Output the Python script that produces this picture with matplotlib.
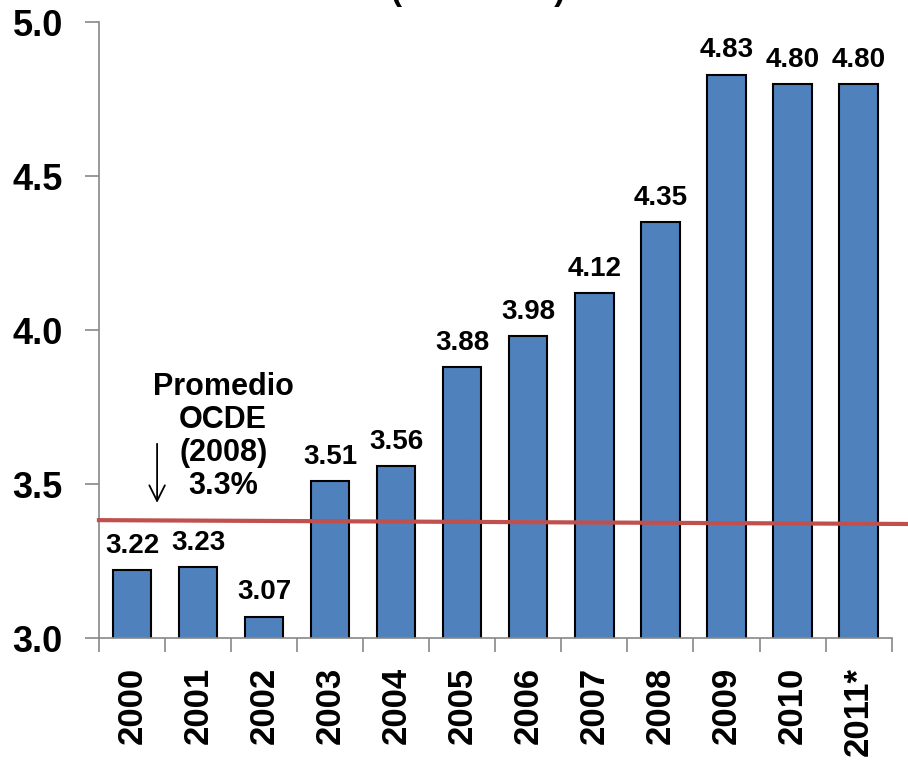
import matplotlib
matplotlib.use("Agg")
import matplotlib.pyplot as plt

years = ["2000", "2001", "2002", "2003", "2004", "2005", "2006", "2007", "2008", "2009", "2010", "2011*"]
values = [3.22, 3.23, 3.07, 3.51, 3.56, 3.88, 3.98, 4.12, 4.35, 4.83, 4.80, 4.80]
value_labels = ["3.22", "3.23", "3.07", "3.51", "3.56", "3.88", "3.98", "4.12", "4.35", "4.83", "4.80", "4.80"]
oecd_line = [3.383, 3.370]
yticks = [3.0, 3.5, 4.0, 4.5, 5.0]

plt.rcParams['font.family'] = ['Liberation Sans', 'DejaVu Sans']
plt.rcParams['font.weight'] = 'bold'

fig = plt.figure(figsize=(9.08, 7.66), dpi=100)
ax = fig.add_axes([0.109, 0.167, 0.873, 0.804])

x = list(range(len(years)))
ax.bar(x, values, width=0.58, color="#4F81BD", edgecolor="black", linewidth=1.5, zorder=2)

for xi, v, lab in zip(x, values, value_labels):
    ax.annotate(lab, (xi, v), xytext=(0, 8), textcoords="offset points",
                ha="center", va="bottom", fontsize=20, fontweight="bold")

# OECD average line extending beyond axes
ax.plot([-0.5, 12.25], oecd_line, color="#C0504D", linewidth=3, clip_on=False, zorder=3)

ax.text(1.38, 3.655, "Promedio\nOCDE\n(2008)\n3.3%", ha="center", va="center",
        fontsize=22, fontweight="bold", linespacing=1.12)
ax.annotate("", xy=(0.38, 3.43), xytext=(0.38, 3.64),
            arrowprops=dict(arrowstyle="->", color="black", lw=1.3, mutation_scale=28))

ax.set_xlim(-0.5, 11.5)
ax.set_ylim(3.0, 5.0)
ax.set_yticks(yticks)
ax.set_yticklabels([f"{t:.1f}" for t in yticks], fontsize=26, fontweight="bold")
ax.set_xticks(x)
ax.set_xticklabels(years, rotation=90, fontsize=25, fontweight="bold")
ax.tick_params(axis="x", length=0, pad=21)
ax.set_xticks([i - 0.5 for i in range(len(years) + 1)], minor=True)
ax.tick_params(axis="x", which="minor", length=10, color="#888888", width=1.2)
ax.tick_params(axis="y", length=10, color="#888888", width=1.2, pad=16)

for s in ["top", "right"]:
    ax.spines[s].set_visible(False)
for s in ["left", "bottom"]:
    ax.spines[s].set_color("#888888")
    ax.spines[s].set_linewidth(1.2)

fig.text(0.527, 1.0, "(% del PIB)", ha="center", va="baseline", fontsize=24, fontweight="bold")

fig.savefig("out.png", dpi=100)
